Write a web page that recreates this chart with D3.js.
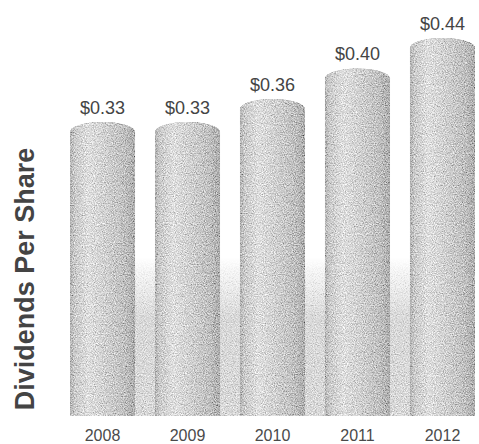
<!DOCTYPE html>
<html>
<head>
<meta charset="utf-8">
<script src="https://cdn.jsdelivr.net/npm/d3@7"></script>
<style>
  html, body { margin: 0; padding: 0; background: #fff; }
  svg { display: block; }
</style>
</head>
<body>
<svg id="chart" width="479" height="444"></svg>
<script>
// Dividends per share by fiscal year
const years = ["2008", "2009", "2010", "2011", "2012"];
const dividends = [0.33, 0.33, 0.36, 0.40, 0.44];
const valueLabels = ["$0.33", "$0.33", "$0.36", "$0.40", "$0.44"];
const axisTitle = "Dividends Per Share";

const W = 479, H = 444;
const baseY = 416;      // floor the cylinders stand on
const capRy = 10;       // vertical radius of the rounded cylinder top

const svg = d3.select("#chart");
const defs = svg.append("defs");

// Cylinder shading: darker rims, highlight left of centre
const shade = defs.append("linearGradient").attr("id", "cyl")
  .attr("x1", "0").attr("x2", "1").attr("y1", "0").attr("y2", "0");
[[0, "#b2b2b2"], [0.07, "#cacaca"], [0.28, "#dedede"], [0.55, "#d0d0d0"], [0.85, "#bfbfbf"], [1, "#acacac"]]
  .forEach(([o, c]) => shade.append("stop").attr("offset", o).attr("stop-color", c));

// Soft floor shading between the cylinders
const floor = defs.append("linearGradient").attr("id", "floor")
  .attr("x1", "0").attr("x2", "0").attr("y1", "0").attr("y2", "1");
[[0, "#ffffff", 0], [0.45, "#f0f0f0", 0.6], [1, "#d8d8d8", 1]]
  .forEach(([o, c, a]) => floor.append("stop").attr("offset", o).attr("stop-color", c).attr("stop-opacity", a));

// Printed halftone grain
const grain = defs.append("filter").attr("id", "grain")
  .attr("x", "0").attr("y", "0").attr("width", "1").attr("height", "1");
grain.append("feTurbulence").attr("type", "fractalNoise")
  .attr("baseFrequency", "0.9").attr("numOctaves", 2).attr("seed", 7).attr("result", "noise");
grain.append("feColorMatrix").attr("in", "noise").attr("type", "matrix")
  .attr("values", "1 0 0 0 0  1 0 0 0 0  1 0 0 0 0  0 0 0 0 1").attr("result", "grey");
grain.append("feComposite").attr("in", "grey").attr("in2", "SourceGraphic")
  .attr("operator", "arithmetic").attr("k1", 0).attr("k2", 1.0).attr("k3", 1).attr("k4", -0.5)
  .attr("result", "mix");
grain.append("feComposite").attr("in", "mix").attr("in2", "SourceGraphic").attr("operator", "in");

const x = d3.scaleBand().domain(years).range([70, 475]).paddingInner(0.235).paddingOuter(0);
const y = d3.scaleLinear().domain([0, 0.44]).range([374, 38]);

const rows = years.map((yr, i) => ({ year: yr, value: dividends[i], label: valueLabels[i] }));

// floor band
svg.append("rect")
  .attr("x", x.range()[0]).attr("width", x.range()[1] - x.range()[0])
  .attr("y", 258).attr("height", baseY - 258)
  .attr("fill", "url(#floor)")
  .attr("filter", "url(#grain)");

// cylinders
svg.append("g").selectAll("path").data(rows).join("path")
  .attr("d", d => {
    const x0 = x(d.year), x1 = x0 + x.bandwidth(), rx = x.bandwidth() / 2;
    const top = y(d.value);
    return `M${x0},${baseY}L${x0},${top + capRy}A${rx},${capRy} 0 0 1 ${x1},${top + capRy}L${x1},${baseY}Z`;
  })
  .attr("fill", "url(#cyl)")
  .attr("filter", "url(#grain)");

// value labels
svg.append("g").selectAll("text").data(rows).join("text")
  .attr("x", d => x(d.year) + x.bandwidth() / 2)
  .attr("y", d => y(d.value) - 8.5)
  .attr("text-anchor", "middle")
  .attr("font-family", "Liberation Sans, Arial, sans-serif")
  .attr("font-size", 18)
  .attr("fill", "#444")
  .text(d => d.label);

// year axis
const xAxis = svg.append("g").attr("transform", `translate(0,${baseY})`)
  .call(d3.axisBottom(x).tickSize(0).tickPadding(14));
xAxis.select(".domain").remove();
xAxis.selectAll("text")
  .attr("font-family", "Liberation Sans, Arial, sans-serif")
  .attr("font-size", 16)
  .attr("fill", "#4a4a4a");

// axis title
svg.append("text")
  .attr("transform", "translate(34,279) rotate(-90)")
  .attr("text-anchor", "middle")
  .attr("font-family", "Liberation Sans, Arial, sans-serif")
  .attr("font-weight", "bold")
  .attr("font-size", 27)
  .attr("fill", "#444")
  .text(axisTitle);
</script>
</body>
</html>
